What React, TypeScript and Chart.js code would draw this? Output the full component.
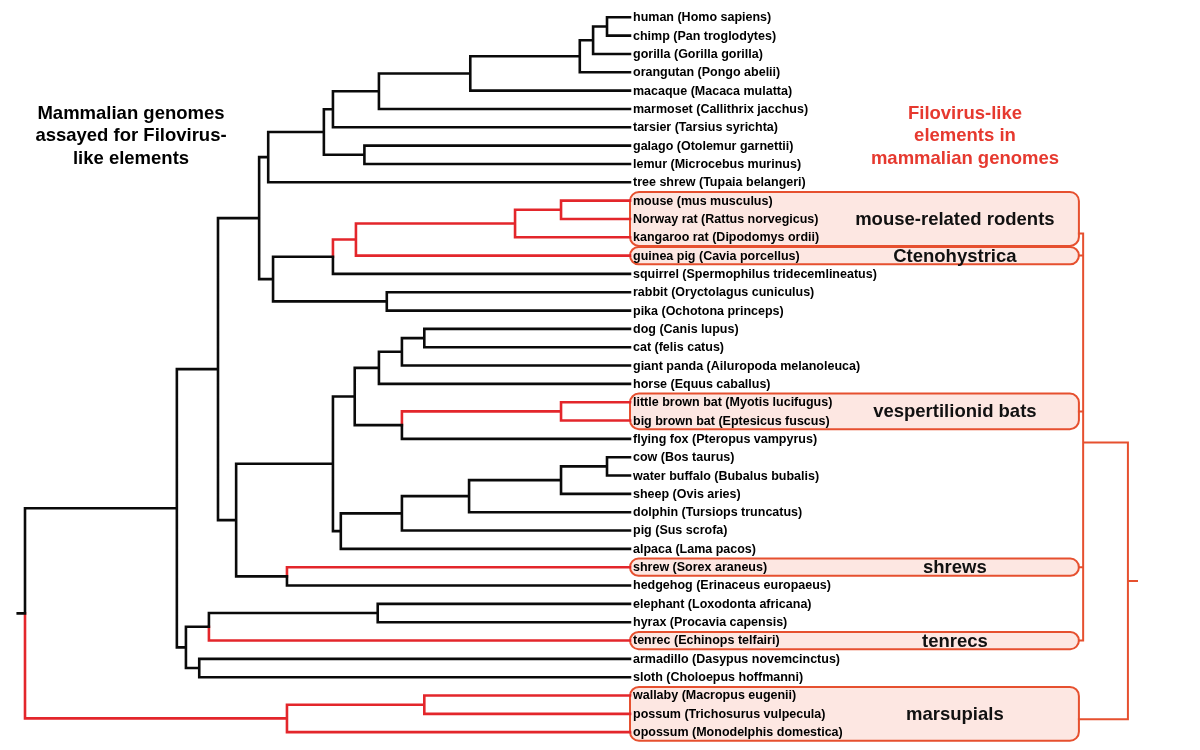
import React, { useEffect, useRef } from "react";
import { Chart, registerables } from "chart.js";

Chart.register(...registerables);

// ---------------- data ----------------
const leafNames = [
  "human (Homo sapiens)",
  "chimp (Pan troglodytes)",
  "gorilla (Gorilla gorilla)",
  "orangutan (Pongo abelii)",
  "macaque (Macaca mulatta)",
  "marmoset (Callithrix jacchus)",
  "tarsier (Tarsius syrichta)",
  "galago (Otolemur garnettii)",
  "lemur (Microcebus murinus)",
  "tree shrew (Tupaia belangeri)",
  "mouse (mus musculus)",
  "Norway rat (Rattus norvegicus)",
  "kangaroo rat (Dipodomys ordii)",
  "guinea pig (Cavia porcellus)",
  "squirrel (Spermophilus tridecemlineatus)",
  "rabbit (Oryctolagus cuniculus)",
  "pika (Ochotona princeps)",
  "dog (Canis lupus)",
  "cat (felis catus)",
  "giant panda (Ailuropoda melanoleuca)",
  "horse (Equus caballus)",
  "little brown bat (Myotis lucifugus)",
  "big brown bat (Eptesicus fuscus)",
  "flying fox (Pteropus vampyrus)",
  "cow (Bos taurus)",
  "water buffalo (Bubalus bubalis)",
  "sheep (Ovis aries)",
  "dolphin (Tursiops truncatus)",
  "pig (Sus scrofa)",
  "alpaca (Lama pacos)",
  "shrew (Sorex araneus)",
  "hedgehog (Erinaceus europaeus)",
  "elephant (Loxodonta africana)",
  "hyrax (Procavia capensis)",
  "tenrec (Echinops telfairi)",
  "armadillo (Dasypus novemcinctus)",
  "sloth (Choloepus hoffmanni)",
  "wallaby (Macropus eugenii)",
  "possum (Trichosurus vulpecula)",
  "opossum (Monodelphis domestica)",
];

// leaves whose genomes carry filovirus-like elements
const fleLeaves = [10, 11, 12, 13, 21, 22, 30, 34, 37, 38, 39];

// internal nodes: id, two children (number = leaf index, string = clade id), depth (root = 0, leaves = 1)
const cladeIds = [
  "HomPan", "Homininae", "Hominidae", "Catarrhini", "Anthropoidea", "Haplorhini", "Strepsirrhini", "Primates", "Euarchonta",
  "MusRattus", "Muroidea", "RodFLE", "Rodentia", "Lagomorpha", "Glires", "Euarchontoglires",
  "CanFel", "Carnivora", "Fereungulata", "Vespertilionidae", "Chiroptera", "Scrotifera",
  "Bovidae", "Ruminantia", "Cetruminantia", "Artiofabula", "Cetartiodactyla", "Laurasiatheria",
  "Eulipotyphla", "Laurasiatheria2", "Boreoeutheria",
  "Paenungulata", "Afrotheria", "Xenarthra", "Atlantogenata", "Eutheria",
  "Australidelphia", "Marsupialia", "Mammalia",
];
const cladeA: (number | string)[] = [
  0, "HomPan", "Homininae", "Hominidae", "Catarrhini", "Anthropoidea", 7, "Haplorhini", "Primates",
  10, "MusRattus", "Muroidea", "RodFLE", 15, "Rodentia", "Euarchonta",
  17, "CanFel", "Carnivora", 21, "Vespertilionidae", "Fereungulata",
  24, "Bovidae", "Ruminantia", "Cetruminantia", "Artiofabula", "Scrotifera",
  30, "Laurasiatheria", "Euarchontoglires",
  32, "Paenungulata", 35, "Afrotheria", "Boreoeutheria",
  37, "Australidelphia", "Eutheria",
];
const cladeB: (number | string)[] = [
  1, 2, 3, 4, 5, 6, 8, "Strepsirrhini", 9,
  11, 12, 13, 14, 16, "Lagomorpha", "Glires",
  18, 19, 20, 22, 23, "Chiroptera",
  25, 26, 27, 28, 29, "Cetartiodactyla",
  31, "Eulipotyphla", "Laurasiatheria2",
  33, 34, 36, "Xenarthra", "Atlantogenata",
  38, 39, "Marsupialia",
];
const cladeDepth = [
  0.962, 0.939, 0.917, 0.736, 0.585, 0.509, 0.561, 0.494, 0.402,
  0.886, 0.810, 0.547, 0.509, 0.598, 0.410, 0.387,
  0.660, 0.623, 0.585, 0.886, 0.623, 0.545,
  0.962, 0.886, 0.734, 0.623, 0.522, 0.509,
  0.433, 0.349, 0.319,
  0.583, 0.304, 0.288, 0.266, 0.251,
  0.660, 0.433, 0.0,
];
const leafDepth = 1.0;
const rootStubDepth = -0.012;

// groups of genomes with filovirus-like elements
const groupNames = ["mouse-related rodents", "Ctenohystrica", "vespertilionid bats", "shrews", "tenrecs", "marsupials"];
const groupFirst = [10, 13, 21, 30, 34, 37];
const groupLast = [12, 13, 22, 30, 34, 39];
const groupLinkRow = [11.8, 13, 21.5, 30, 34, 38.3];

// right-hand grouping bracket
const boxRightDepth = 1.742;
const bracketInnerDepth = 1.749;
const bracketOuterDepth = 1.823;
const bracketStubDepth = 1.838;
const bracketJoinRow = 23.2;
const groupLabelDepth = 1.537;

const leftTitle = ["Mammalian genomes", "assayed for Filovirus-", "like elements"];
const rightTitle = ["Filovirus-like", "elements in", "mammalian genomes"];

// ---------------- styles ----------------
const BLACK = "#0a0a0a";
const RED = "#e3262b";
const BOX_STROKE = "#e6502f";
const BOX_FILL = "#fde7e2";
const TITLE_RED = "#e6392f";
const FONT = "'Liberation Sans', Arial, Helvetica, sans-serif";

export default function App() {
  const ref = useRef<HTMLCanvasElement>(null);

  useEffect(() => {
    document.body.style.margin = "0";
    const canvas = ref.current;
    if (!canvas) return;

    const fle = new Set(fleLeaves);
    const idx: Record<string, number> = {};
    cladeIds.forEach((c, i) => (idx[c] = i));

    const yCache: Record<string, number> = {};
    const yOf = (n: number | string): number => {
      if (typeof n === "number") return n;
      if (yCache[n] !== undefined) return yCache[n];
      const i = idx[n];
      const v = (yOf(cladeA[i]) + yOf(cladeB[i])) / 2;
      yCache[n] = v;
      return v;
    };
    const depthOf = (n: number | string) => (typeof n === "number" ? leafDepth : cladeDepth[idx[n]]);
    const allRed = (n: number | string): boolean => {
      if (typeof n === "number") return fle.has(n);
      const i = idx[n];
      return allRed(cladeA[i]) && allRed(cladeB[i]);
    };

    const black: any[] = [];
    const red: any[] = [];
    const gap = { x: null, y: null };
    cladeIds.forEach((c, i) => {
      const px = cladeDepth[i];
      const py = yOf(c);
      [cladeA[i], cladeB[i]].forEach((ch) => {
        const target = allRed(ch) ? red : black;
        const cy = yOf(ch);
        target.push({ x: px, y: py }, { x: px, y: cy }, { x: depthOf(ch), y: cy }, gap);
      });
    });
    const rootY = yOf("Mammalia");
    black.push({ x: rootStubDepth, y: rootY }, { x: 0, y: rootY }, gap);

    // bracket
    const bracket: any[] = [];
    const innerRows = groupLinkRow.slice(0, 5);
    innerRows.forEach((r) => {
      bracket.push({ x: boxRightDepth, y: r }, { x: bracketInnerDepth, y: r }, gap);
    });
    bracket.push({ x: bracketInnerDepth, y: Math.min(...innerRows) }, { x: bracketInnerDepth, y: Math.max(...innerRows) }, gap);
    const marsRow = groupLinkRow[5];
    bracket.push(
      { x: bracketInnerDepth, y: bracketJoinRow },
      { x: bracketOuterDepth, y: bracketJoinRow },
      { x: bracketOuterDepth, y: marsRow },
      { x: boxRightDepth, y: marsRow },
      gap
    );
    const stubRow = (bracketJoinRow + marsRow) / 2;
    bracket.push({ x: bracketOuterDepth, y: stubRow }, { x: bracketStubDepth, y: stubRow }, gap);

    const rowPx0 = 17.3;
    const rowStep = 18.33;
    const yMin = -rowPx0 / rowStep;
    const yMax = yMin + 750 / rowStep;
    const xMin = -25 / 605;
    const xMax = xMin + 1200 / 605;

    const decor = {
      id: "treeDecor",
      beforeDatasetsDraw(chart: any) {
        const { ctx, scales } = chart;
        const xs = scales.x;
        const ys = scales.y;
        ctx.save();
        groupNames.forEach((_, i) => {
          const left = xs.getPixelForValue(leafDepth);
          const right = xs.getPixelForValue(boxRightDepth);
          const top = ys.getPixelForValue(groupFirst[i] - 0.47);
          const bottom = ys.getPixelForValue(groupLast[i] + 0.47);
          ctx.beginPath();
          ctx.roundRect(left, top, right - left, bottom - top, 9);
          ctx.fillStyle = BOX_FILL;
          ctx.fill();
          ctx.lineWidth = 2;
          ctx.strokeStyle = BOX_STROKE;
          ctx.stroke();
        });
        ctx.restore();
      },
      afterDatasetsDraw(chart: any) {
        const { ctx, scales } = chart;
        const xs = scales.x;
        const ys = scales.y;
        ctx.save();
        ctx.textBaseline = "middle";
        ctx.fillStyle = "#000";
        ctx.textAlign = "left";
        ctx.font = `bold 12.5px ${FONT}`;
        const lx = xs.getPixelForValue(leafDepth) + 3;
        leafNames.forEach((n, i) => {
          ctx.fillText(n, lx, ys.getPixelForValue(i) + 0.5);
        });
        ctx.textAlign = "center";
        ctx.font = `bold 18.5px ${FONT}`;
        ctx.fillStyle = "#111";
        groupNames.forEach((g, i) => {
          const cy = (groupFirst[i] + groupLast[i]) / 2;
          ctx.fillText(g, xs.getPixelForValue(groupLabelDepth), ys.getPixelForValue(cy) + 1);
        });
        const lineYs = [113.5, 136, 158.5];
        ctx.fillStyle = "#000";
        leftTitle.forEach((t, i) => ctx.fillText(t, 131, lineYs[i]));
        ctx.fillStyle = TITLE_RED;
        rightTitle.forEach((t, i) => ctx.fillText(t, 965, lineYs[i]));
        ctx.restore();
      },
    };

    const lineDs = (data: any[], color: string, width: number) => ({
      data,
      showLine: true,
      borderColor: color,
      backgroundColor: color,
      borderWidth: width,
      pointRadius: 0,
      pointHoverRadius: 0,
      spanGaps: false,
      borderCapStyle: "square" as const,
      borderJoinStyle: "miter" as const,
      tension: 0,
    });

    const chart = new Chart(canvas, {
      type: "scatter",
      data: {
        datasets: [lineDs(black, BLACK, 2.6), lineDs(red, RED, 2.6), lineDs(bracket, BOX_STROKE, 2)],
      },
      options: {
        responsive: false,
        animation: false,
        devicePixelRatio: 1,
        layout: { padding: 0 },
        plugins: { legend: { display: false }, tooltip: { enabled: false }, title: { display: false } },
        events: [],
        scales: {
          x: { type: "linear", min: xMin, max: xMax, display: false },
          y: { type: "linear", min: yMin, max: yMax, reverse: true, display: false },
        },
      },
      plugins: [decor],
    });
    return () => chart.destroy();
  }, []);

  return (
    <div style={{ width: 1200, height: 750 }}>
      <canvas ref={ref} width={1200} height={750} style={{ display: "block" }} />
    </div>
  );
}
